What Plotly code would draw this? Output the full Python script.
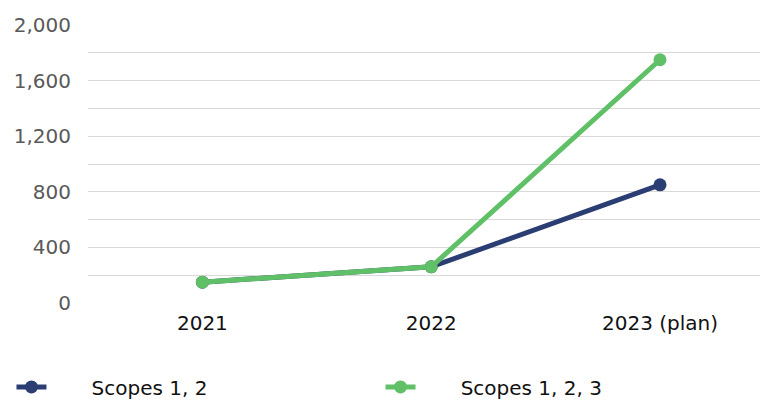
import plotly.graph_objects as go

# Emissions by year
years = ["2021", "2022", "2023 (plan)"]
scopes_12 = [150, 260, 850]
scopes_123 = [150, 260, 1750]

y_ticks = [0, 400, 800, 1200, 1600, 2000]
y_tick_text = ["0", "400", "800", "1,200", "1,600", "2,000"]

NAVY = "#2B3E73"
GREEN = "#60C068"
FONT = "DejaVu Sans"
PAD = "\u00a0" * 6 + "\u200a"

fig = go.Figure()
fig.add_trace(go.Scatter(
    x=years, y=scopes_12, name=PAD + "Scopes 1, 2", mode="lines+markers",
    line=dict(color=NAVY, width=5), marker=dict(color=NAVY, size=13),
    legend="legend",
))
fig.add_trace(go.Scatter(
    x=years, y=scopes_123, name=PAD + "Scopes 1, 2, 3", mode="lines+markers",
    line=dict(color=GREEN, width=5), marker=dict(color=GREEN, size=13),
    legend="legend2",
))

legend_common = dict(
    orientation="h", font=dict(family=FONT, size=20, color="#111111"),
    bgcolor="rgba(0,0,0,0)", xref="container", yref="container",
    xanchor="left", yanchor="middle",
)

fig.update_layout(
    width=760, height=401,
    margin=dict(l=88, r=0, t=25, b=98),
    paper_bgcolor="white", plot_bgcolor="white",
    font=dict(family=FONT, size=20),
    showlegend=True,
    xaxis=dict(
        type="category", range=[-0.5, 2.437], showgrid=False, zeroline=False,
        showline=False, ticks="", ticklabelstandoff=6,
        tickfont=dict(family=FONT, size=20, color="#111111"),
    ),
    yaxis=dict(
        range=[0, 2000], tickvals=y_ticks, ticktext=y_tick_text,
        showgrid=True, gridcolor="#D9D9D9", gridwidth=1, zeroline=False,
        showline=False, ticks="", ticklabelstandoff=16,
        tickfont=dict(family=FONT, size=20, color="#595959"),
        minor=dict(dtick=200, tick0=0, showgrid=True, gridcolor="#D9D9D9", gridwidth=1),
    ),
    legend=dict(x=0.0151, y=0.035, **legend_common),
    legend2=dict(x=0.5007, y=0.035, **legend_common),
)

fig.write_html("out.html")
